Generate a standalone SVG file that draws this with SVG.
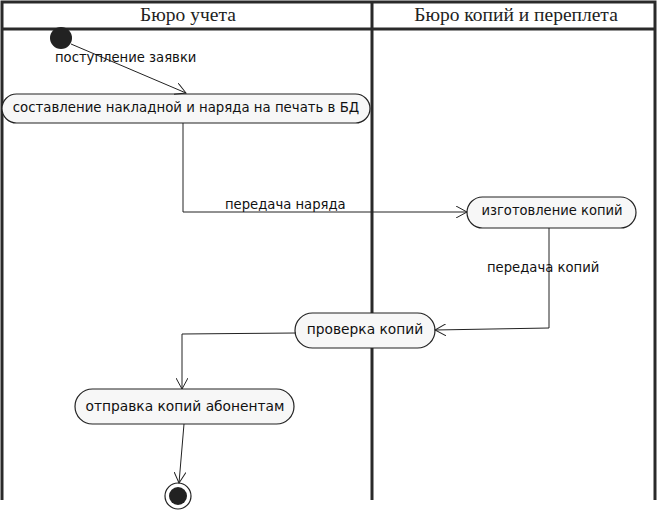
<svg xmlns="http://www.w3.org/2000/svg" width="658" height="510" viewBox="0 0 658 510">
<defs>
<style>
.lane{stroke:#2a2a2a;stroke-width:3;fill:none}
.hd{font-family:"Liberation Serif",serif;font-size:19.5px;fill:#222;text-anchor:middle}
.act{fill:#f7f7f7;stroke:#222;stroke-width:1.2}
.t{font-family:"DejaVu Sans",sans-serif;font-size:13.3px;fill:#111;text-anchor:middle}
.lbl{font-family:"DejaVu Sans",sans-serif;font-size:13.2px;fill:#111}
.edge{stroke:#222;stroke-width:1;fill:none}
</style>
<marker id="arr" viewBox="0 0 12 12" refX="11" refY="6" markerWidth="12" markerHeight="12" markerUnits="userSpaceOnUse" orient="auto">
<path d="M0,0 L11,6 L0,12" fill="none" stroke="#222" stroke-width="1"/>
</marker>
</defs>
<rect width="658" height="510" fill="#fff"/>
<g id="swimlanes">
<path class="lane" d="M2,500 V2 H655 V500 M372,2 V500 M2,29 H655"/>
<text class="hd" x="188" y="21">Бюро учета</text>
<text class="hd" x="516" y="21">Бюро копий и переплета</text>
</g>
<g id="start">
<circle cx="61" cy="38" r="11" fill="#222"/>
</g>
<g id="a1">
<rect class="act" x="2" y="94" width="368" height="29" rx="14.5"/>
<text class="t" x="186" y="112">составление накладной и наряда на печать в БД</text>
</g>
<g id="a2">
<rect class="act" x="467" y="197" width="169" height="31" rx="15.5"/>
<text class="t" x="552" y="215" textLength="141" lengthAdjust="spacingAndGlyphs">изготовление копий</text>
</g>
<g id="a3">
<rect class="act" x="295" y="313" width="140" height="35" rx="17.5"/>
<text class="t" x="365" y="334" style="font-size:13.8px">проверка копий</text>
</g>
<g id="a4">
<rect class="act" x="75" y="389" width="219" height="35" rx="17.5"/>
<text class="t" x="185" y="411" style="font-size:13.8px">отправка копий абонентам</text>
</g>
<g id="end">
<circle cx="178" cy="496" r="13" fill="#fff" stroke="#222" stroke-width="1.2"/>
<circle cx="178" cy="496" r="9" fill="#222"/>
</g>
<g id="connectors">
<path class="edge" d="M71,44 L186,93" marker-end="url(#arr)"/>
<path class="edge" d="M183,123 V212 H467" marker-end="url(#arr)"/>
<path class="edge" d="M549,228 V328 L435,330" marker-end="url(#arr)"/>
<path class="edge" d="M296,333 L182,334 V389" marker-end="url(#arr)"/>
<path class="edge" d="M184,424 L179,483" marker-end="url(#arr)"/>
<text class="lbl" x="55" y="62">поступление заявки</text>
<text class="lbl" x="225" y="209">передача наряда</text>
<text class="lbl" x="487" y="272">передача копий</text>
</g>
</svg>
